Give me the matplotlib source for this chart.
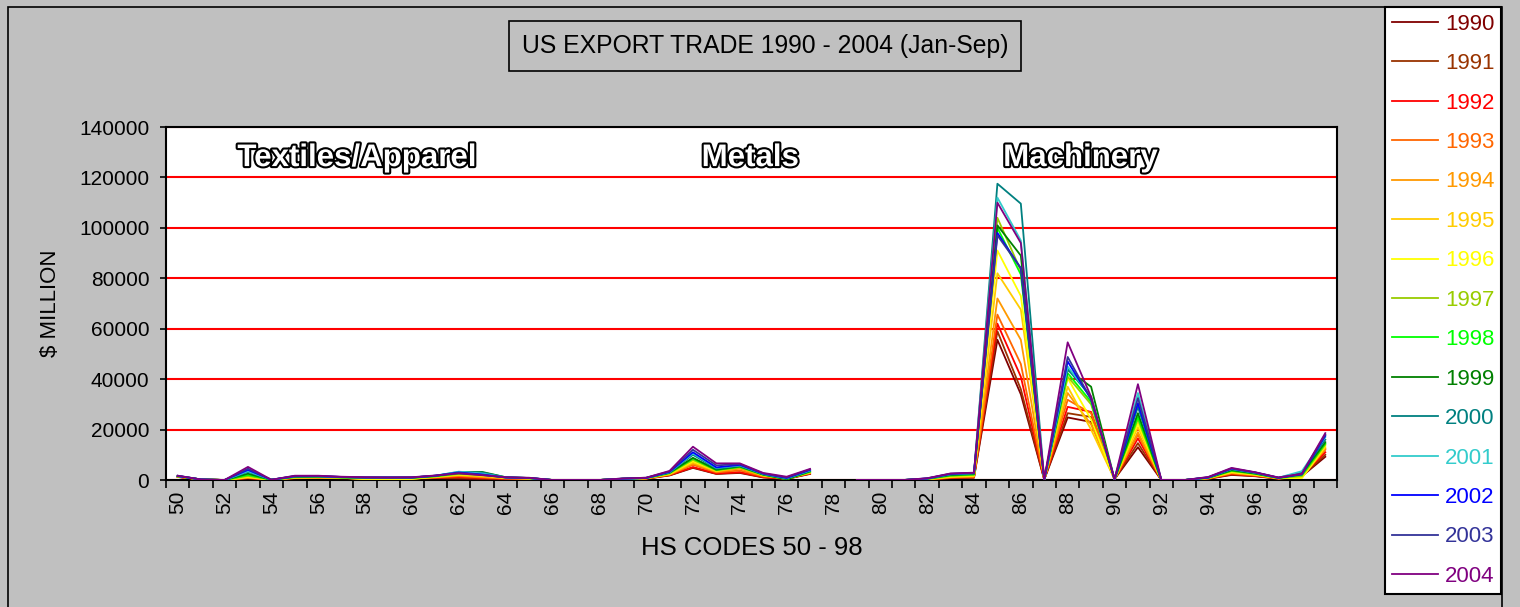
import numpy as np
import matplotlib
matplotlib.use("Agg")
import matplotlib.pyplot as plt
import matplotlib.patheffects as pe
from matplotlib.patches import Rectangle

plt.rcParams['font.family'] = ['Liberation Sans', 'DejaVu Sans']

# HS chapters 50 - 99 (chapter 78 has no data -> gap)
hs_codes = list(range(50, 100))

years = ['1990', '1991', '1992', '1993', '1994', '1995', '1996', '1997',
         '1998', '1999', '2000', '2001', '2002', '2003', '2004']

colors = ['#800000', '#993300', '#FF0000', '#FF6600', '#FF9900', '#FFCC00',
          '#FFFF00', '#99CC00', '#00FF00', '#008000', '#008080', '#33CCCC',
          '#0000FF', '#333399', '#800080']

# $ million, one value per HS chapter 50..99
y1990 = [1200, 200, 0, 600, 100, 700, 800, 700, 600, 600,
         600, 700, 500, 400, 300, 300, 0, 0, 0, 300,
         500, 1800, 4800, 2400, 2800, 1000, 400, 2400, None, 0,
         0, 0, 100, 700, 900, 55600, 34000, 200, 24800, 23000,
         300, 13000, 0, 0, 500, 2000, 1500, 500, 1500, 9200]
y1991 = [1200, 200, 0, 700, 100, 700, 800, 700, 600, 600,
         600, 800, 800, 600, 400, 400, 0, 0, 0, 300,
         500, 1900, 5000, 2500, 3000, 1100, 500, 2500, None, 0,
         0, 0, 100, 800, 1000, 59000, 36000, 200, 26500, 25000,
         300, 14600, 0, 0, 500, 2200, 1600, 500, 1600, 10000]
y1992 = [1300, 200, 0, 800, 100, 800, 900, 800, 700, 700,
         700, 900, 1200, 800, 500, 400, 0, 0, 0, 300,
         600, 2000, 5100, 2600, 3100, 1200, 500, 2600, None, 0,
         0, 0, 150, 900, 1100, 62000, 41000, 200, 29000, 27000,
         300, 16500, 0, 0, 600, 2400, 1700, 600, 1700, 11000]
y1993 = [1300, 200, 0, 900, 100, 800, 900, 800, 700, 700,
         700, 1000, 1500, 1000, 600, 500, 0, 0, 0, 400,
         600, 2100, 6000, 3000, 3800, 1400, 600, 2700, None, 0,
         0, 0, 200, 1000, 1200, 65600, 46000, 200, 31800, 26500,
         300, 18000, 0, 0, 600, 2600, 1800, 600, 1600, 12000]
y1994 = [1400, 200, 0, 1000, 100, 900, 1000, 900, 500, 500,
         600, 1100, 1800, 1200, 700, 500, 0, 0, 0, 400,
         600, 2200, 6500, 3300, 4500, 1600, 700, 2800, None, 0,
         0, 0, 250, 1100, 1400, 72000, 55600, 200, 34500, 22000,
         300, 19000, 0, 0, 700, 2800, 2000, 700, 1200, 12500]
y1995 = [1400, 200, 0, 1100, 100, 900, 1000, 900, 400, 300,
         500, 1200, 2000, 1500, 800, 600, 0, 0, 0, 400,
         700, 2300, 7000, 3500, 5000, 1800, 600, 3000, None, 0,
         0, 0, 300, 1200, 1600, 82000, 67600, 200, 37000, 20000,
         300, 21000, 0, 0, 700, 3000, 2100, 700, 900, 13000]
y1996 = [1500, 200, 0, 1300, 100, 1000, 1100, 900, 300, 200,
         400, 1300, 2200, 1800, 900, 600, 0, 0, 0, 400,
         700, 2500, 7500, 3700, 5200, 1900, 500, 3100, None, 0,
         0, 0, 350, 1400, 1800, 91000, 73000, 200, 40400, 24000,
         300, 22500, 0, 0, 800, 3200, 2200, 700, 800, 13500]
y1997 = [1500, 200, 0, 1600, 100, 1100, 1200, 1000, 800, 800,
         800, 1400, 2400, 2000, 1000, 700, 0, 0, 0, 500,
         700, 2600, 8000, 3800, 5000, 2000, 400, 3200, None, 0,
         0, 0, 400, 1600, 2000, 104000, 83000, 200, 41000, 30000,
         300, 24000, 0, 0, 800, 3500, 2400, 800, 1500, 14000]
y1998 = [1500, 200, 0, 2000, 100, 1200, 1300, 1000, 900, 900,
         900, 1500, 2600, 2400, 1000, 700, 0, 0, 0, 500,
         800, 2800, 8500, 4000, 5200, 2100, 300, 3300, None, 0,
         0, 0, 450, 1800, 2200, 100000, 81500, 200, 42400, 31000,
         300, 25000, 0, 0, 900, 3700, 2500, 800, 2000, 14500]
y1999 = [1500, 200, 0, 2500, 100, 1300, 1400, 1100, 900, 900,
         900, 1600, 3000, 3200, 1100, 800, 0, 0, 0, 500,
         800, 2900, 8800, 4100, 5400, 2200, 300, 3500, None, 0,
         0, 0, 500, 2000, 2400, 101000, 89000, 200, 43700, 37000,
         300, 26500, 0, 0, 900, 3900, 2600, 800, 2500, 15000]
y2000 = [1600, 200, 0, 3200, 100, 1400, 1500, 1100, 1000, 1000,
         1000, 1700, 3200, 3000, 1100, 800, 0, 0, 0, 500,
         800, 3000, 10000, 4500, 5600, 2300, 600, 3600, None, 0,
         0, 0, 550, 2200, 2600, 117500, 109600, 200, 44000, 33000,
         300, 29000, 0, 0, 1000, 4200, 2800, 900, 3000, 16000]
y2001 = [1600, 200, 0, 3500, 100, 1500, 1500, 1200, 1000, 1000,
         1000, 1700, 3300, 2600, 1000, 800, 0, 0, 0, 500,
         800, 3100, 10500, 4800, 5800, 2400, 700, 3800, None, 0,
         0, 0, 600, 2300, 2700, 112000, 95000, 200, 45000, 33000,
         300, 34500, 0, 0, 1000, 4400, 2900, 900, 3500, 17000]
y2002 = [1600, 200, 0, 4000, 100, 1500, 1500, 1200, 1000, 1000,
         1000, 1700, 3000, 2200, 1000, 800, 0, 0, 0, 500,
         800, 3200, 11000, 5000, 6000, 2500, 800, 4000, None, 0,
         0, 0, 600, 2400, 2800, 98000, 84000, 200, 47000, 32000,
         300, 30500, 0, 0, 1000, 4500, 3000, 900, 2200, 17500]
y2003 = [1700, 200, 0, 4500, 100, 1600, 1600, 1200, 1000, 1000,
         1000, 1700, 2800, 2000, 1000, 800, 0, 0, 0, 600,
         900, 3400, 12000, 5800, 6300, 2600, 1000, 4200, None, 0,
         0, 0, 650, 2500, 2800, 97000, 84000, 200, 48800, 32000,
         300, 32500, 0, 0, 1100, 4600, 3000, 900, 2400, 18000]
y2004 = [1700, 200, 0, 5200, 100, 1700, 1700, 1300, 1100, 1000,
         1100, 1800, 2600, 1900, 1100, 900, 0, 0, 0, 600,
         900, 3600, 13200, 6600, 6600, 2800, 1300, 4400, None, 0,
         0, 0, 700, 2600, 2900, 110000, 94000, 200, 54600, 33000,
         300, 38000, 0, 0, 1200, 4800, 3100, 1000, 2500, 18600]

series = [y1990, y1991, y1992, y1993, y1994, y1995, y1996, y1997,
          y1998, y1999, y2000, y2001, y2002, y2003, y2004]

sector_labels = ['Textiles/Apparel', 'Metals', 'Machinery']
sector_xpos = [0.163, 0.499, 0.781]

W, H = 1520, 607
fig = plt.figure(figsize=(W / 100, H / 100), dpi=100, facecolor='#C0C0C0')

# outer chart border
fig.patches.append(Rectangle((8 / W, -0.05), (1502 - 8) / W, 1.05 - 7 / H,
                             transform=fig.transFigure, fill=False,
                             edgecolor='black', linewidth=1.2))

ax = fig.add_axes([166 / W, 1 - 480 / H, (1337 - 166) / W, (480 - 127) / H])
ax.set_facecolor('white')

for vals, yr, c in zip(series, years, colors):
    y = np.array([np.nan if v is None else v for v in vals], dtype=float)
    ax.plot(hs_codes, y, color=c, lw=1.3, label=yr, zorder=3)

ax.set_xlim(49.5, 99.5)
ax.set_ylim(0, 140000)
ax.set_yticks(np.arange(0, 140001, 20000))
ax.yaxis.grid(True, color='red', lw=1.5, zorder=1)
ax.set_axisbelow(True)
ax.tick_params(axis='y', labelsize=15, length=4, width=1.2, direction='out', pad=8)

ax.set_xticks(hs_codes[::2])
ax.set_xticklabels([str(c) for c in hs_codes[::2]], rotation=90)
ax.set_xticks(np.arange(49.5, 100, 1), minor=True)
ax.tick_params(axis='x', which='major', labelsize=15, length=0, pad=8)
ax.tick_params(axis='x', which='minor', length=6, width=1.2, direction='out')

for s in ax.spines.values():
    s.set_linewidth(1.5)
    s.set_color('black')

for txt, xp in zip(sector_labels, sector_xpos):
    t = ax.text(xp, 0.912, txt, transform=ax.transAxes, ha='center', va='center',
                fontsize=22.5, fontweight='bold', color='white', zorder=5)
    t.set_path_effects([pe.Stroke(linewidth=3, foreground='black'), pe.Normal()])

fig.text(765 / W, 1 - 46 / H, 'US EXPORT TRADE 1990 - 2004 (Jan-Sep)', ha='center',
         va='center', fontsize=17.8,
         bbox=dict(boxstyle='square,pad=0.52', facecolor='none', edgecolor='black', lw=1.2))
fig.text(50 / W, 1 - 303 / H, '$ MILLION', rotation=90, ha='center', va='center', fontsize=16)
fig.text(752 / W, 1 - 548 / H, 'HS CODES 50 - 98', ha='center', va='center', fontsize=18.5)

leg = fig.legend(loc='upper left', bbox_to_anchor=(1385 / W, 1 - 7 / H),
                 bbox_transform=fig.transFigure, borderaxespad=0, frameon=True,
                 fancybox=False, edgecolor='black', facecolor='white', framealpha=1,
                 fontsize=16, labelspacing=0.83, handlelength=2.1, handletextpad=0.3,
                 borderpad=0.3, labelcolor='linecolor')
leg.get_frame().set_linewidth(1.5)

fig.savefig('out.png', dpi=100, facecolor=fig.get_facecolor())
